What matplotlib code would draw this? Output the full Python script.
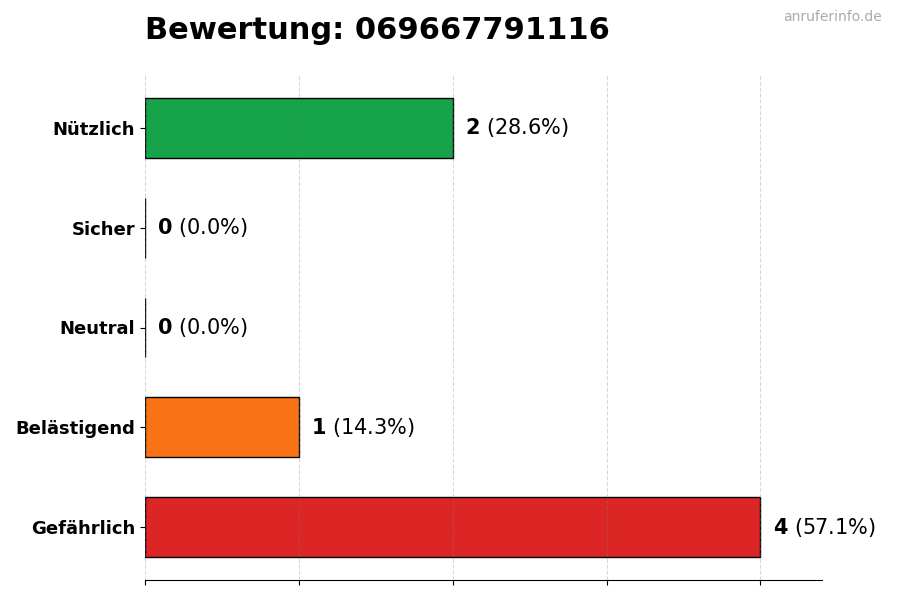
import numpy as np
import matplotlib
matplotlib.use("Agg")
import matplotlib.pyplot as plt

categories = ["Gefährlich", "Belästigend", "Neutral", "Sicher", "Nützlich"]
counts = np.array([4, 1, 0, 0, 2])
colors = ["#dc2626", "#f97316", "#9ca3af", "#3b82f6", "#16a34a"]
number = "069667791116"

total = counts.sum()
pct = counts / total * 100

fig = plt.figure(figsize=(9, 6), dpi=100)
ax = fig.add_axes([145 / 900, 20 / 600, 677 / 900, 505 / 600])

y = np.arange(len(categories))
ax.barh(y, counts, height=0.6, color=colors, edgecolor="black", linewidth=1)

for yi, c, p in zip(y, counts, pct):
    ax.text(c + 0.08, yi, r"$\mathbf{%d}$ (%.1f%%)" % (c, p), va="center", ha="left", fontsize=15)

ax.set_yticks(y)
ax.set_yticklabels(categories, fontsize=13, fontweight="bold")
ax.set_xlim(0, counts.max() * 1.1)
ax.set_xticks(np.arange(0, counts.max() + 1))
ax.set_xticklabels([])
ax.grid(axis="x", linestyle="--", color="gray", alpha=0.3, linewidth=0.8)
for s in ["top", "right", "left"]:
    ax.spines[s].set_visible(False)

fig.text(145 / 900, 1 - 39 / 600, "Bewertung: " + number, fontsize=22, fontweight="bold",
         ha="left", va="baseline")
fig.text(882 / 900, 1 - 17 / 600, "anruferinfo.de", fontsize=10, color="#aaaaaa",
         ha="right", va="center")

fig.savefig("out.png", dpi=100)
